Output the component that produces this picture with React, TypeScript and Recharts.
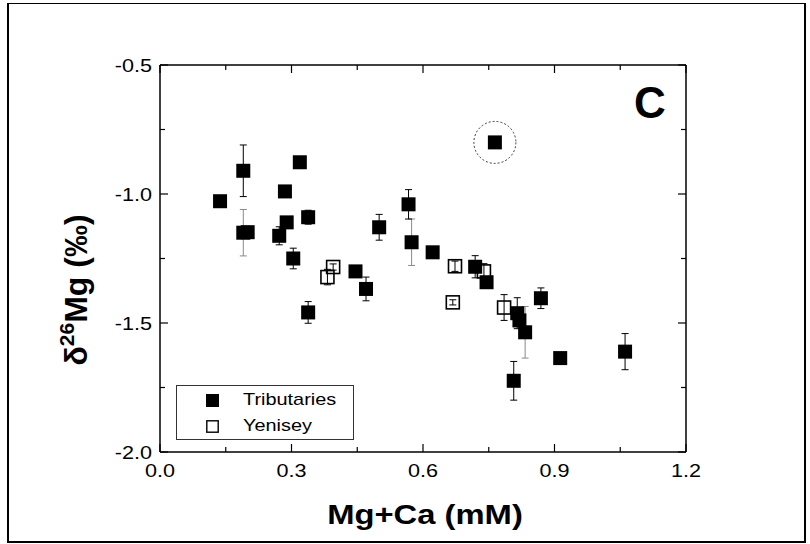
import React from 'react';
import { ScatterChart, Scatter, XAxis, YAxis, ErrorBar, ReferenceDot } from 'recharts';

// ---- data ----
const xMajorTicks = [0, 0.3, 0.6, 0.9, 1.2];
const xMinorTicks = [0.15, 0.45, 0.75, 1.05];
const yMajorTicks = [-2.0, -1.5, -1.0, -0.5];
const yMinorTicks = [-1.75, -1.25, -0.75];

const tribX = [0.137, 0.19, 0.19, 0.2, 0.272, 0.285, 0.289, 0.304, 0.319, 0.338, 0.338, 0.446, 0.47, 0.5, 0.567, 0.574, 0.622, 0.719, 0.745, 0.764, 0.815, 0.82, 0.833, 0.807, 0.869, 0.913, 1.061];
const tribY = [-1.028, -0.91, -1.15, -1.148, -1.162, -0.99, -1.11, -1.25, -0.877, -1.09, -1.459, -1.3, -1.368, -1.129, -1.04, -1.187, -1.226, -1.282, -1.342, -0.8, -1.462, -1.49, -1.536, -1.724, -1.404, -1.636, -1.611];
const tribErr = [null, 0.1, null, null, 0.035, null, 0.022, 0.04, null, 0.027, 0.042, null, 0.046, 0.05, 0.057, null, 0.012, 0.043, null, null, 0.06, null, null, 0.075, 0.04, null, 0.07];
const tribErrGrey = [null, null, 0.09, null, null, null, null, null, null, null, null, null, null, null, null, 0.09, null, null, null, null, null, null, 0.1, null, null, null, null];

const yenX = [0.382, 0.395, 0.673, 0.668, 0.739, 0.785];
const yenY = [-1.322, -1.283, -1.28, -1.42, -1.3, -1.44];
const yenErr = [0.03, 0.012, 0.02, 0.01, 0.03, 0.05];

const outlierX = 0.764;
const outlierY = -0.8;

const tribData = tribX.map((x, i) => ({
  x,
  y: tribY[i],
  e: tribErr[i] ?? undefined,
  g: tribErrGrey[i] ?? undefined,
}));
const yenData = yenX.map((x, i) => ({ x, y: yenY[i], e: yenErr[i] ?? undefined }));

const xTicks = [...xMajorTicks, ...xMinorTicks].sort((a, b) => a - b);
const yTicks = [...yMajorTicks, ...yMinorTicks].sort((a, b) => a - b);

// ---- styles ----
const FONT = '"Liberation Sans", Arial, Helvetica, sans-serif';
const isIn = (v: number, list: number[]) => list.some((m) => Math.abs(m - v) < 1e-9);

const BottomTick = (props: any) => {
  const { x, y, payload } = props;
  const major = isIn(payload.value, xMajorTicks);
  return (
    <g>
      <line x1={x} y1={y} x2={x} y2={y - (major ? 8 : 5)} stroke="#000" strokeWidth={1.2} />
      {major && (
        <text transform={`translate(${x},${y + 25}) scale(1.2,1)`} textAnchor="middle" fontSize={18} fontFamily={FONT} fill="#000">
          {Number(payload.value).toFixed(1)}
        </text>
      )}
    </g>
  );
};

const TopTick = (props: any) => {
  const { x, y, payload } = props;
  const major = isIn(payload.value, xMajorTicks);
  return <line x1={x} y1={y} x2={x} y2={y + (major ? 8 : 5)} stroke="#000" strokeWidth={1.2} />;
};

const LeftTick = (props: any) => {
  const { x, y, payload } = props;
  const major = isIn(payload.value, yMajorTicks);
  return (
    <g>
      <line x1={x} y1={y} x2={x + (major ? 8 : 5)} y2={y} stroke="#000" strokeWidth={1.2} />
      {major && (
        <text transform={`translate(${x - 8},${y + 6.5}) scale(1.2,1)`} textAnchor="end" fontSize={18} fontFamily={FONT} fill="#000">
          {Number(payload.value).toFixed(1)}
        </text>
      )}
    </g>
  );
};

const RightTick = (props: any) => {
  const { x, y, payload } = props;
  const major = isIn(payload.value, yMajorTicks);
  return <line x1={x} y1={y} x2={x - (major ? 8 : 5)} y2={y} stroke="#000" strokeWidth={1.2} />;
};

const FilledSquare = (props: any) => {
  const { cx, cy } = props;
  if (cx == null || cy == null) return null;
  return <rect x={cx - 7} y={cy - 7} width={14} height={14} fill="#000" />;
};

const OpenSquare = (props: any) => {
  const { cx, cy } = props;
  if (cx == null || cy == null) return null;
  return <rect x={cx - 6.5} y={cy - 6.5} width={13} height={13} fill="none" stroke="#000" strokeWidth={1.6} />;
};

const legendTextStyle: React.CSSProperties = {
  position: 'absolute',
  left: 66,
  fontSize: 17,
  transform: 'scaleX(1.17)',
  transformOrigin: 'left center',
  whiteSpace: 'nowrap',
  lineHeight: '20px',
};

const LegendBox = () => (
  <div
    style={{
      position: 'absolute',
      left: 176,
      top: 385,
      width: 178,
      height: 55,
      boxSizing: 'border-box',
      border: '1px solid #333',
      background: '#fff',
      fontFamily: FONT,
    }}
  >
    <svg width={20} height={55} style={{ position: 'absolute', left: 28, top: 0 }}>
      <rect x={1} y={8} width={13} height={13} fill="#000" />
      <rect x={1.8} y={34.8} width={11.4} height={11.4} fill="#fff" stroke="#000" strokeWidth={1.4} />
    </svg>
    <div style={{ ...legendTextStyle, top: 4 }}>Tributaries</div>
    <div style={{ ...legendTextStyle, top: 30 }}>Yenisey</div>
  </div>
);

export default function App() {
  return (
    <div style={{ position: 'absolute', left: 0, top: 0, width: 810, height: 544, background: '#fff', fontFamily: FONT, overflow: 'hidden' }}>
      <ScatterChart width={810} height={544} margin={{ top: 64, right: 123, bottom: 91, left: 159 }}>
        <XAxis
          xAxisId="b"
          type="number"
          dataKey="x"
          domain={[0, 1.2]}
          allowDataOverflow
          ticks={xTicks}
          interval={0}
          height={1}
          tickSize={0}
          tickMargin={0}
          tickLine={false}
          tick={BottomTick}
          axisLine={{ stroke: '#000', strokeWidth: 1.5 }}
        />
        <XAxis
          xAxisId="t"
          orientation="top"
          type="number"
          dataKey="x"
          domain={[0, 1.2]}
          allowDataOverflow
          ticks={xTicks}
          interval={0}
          height={1}
          tickSize={0}
          tickMargin={0}
          tickLine={false}
          tick={TopTick}
          axisLine={{ stroke: '#000', strokeWidth: 1.5 }}
        />
        <YAxis
          yAxisId="l"
          type="number"
          dataKey="y"
          domain={[-2.0, -0.5]}
          allowDataOverflow
          ticks={yTicks}
          interval={0}
          width={1}
          tickSize={0}
          tickMargin={0}
          tickLine={false}
          tick={LeftTick}
          axisLine={{ stroke: '#000', strokeWidth: 1.5 }}
        />
        <YAxis
          yAxisId="r"
          orientation="right"
          type="number"
          dataKey="y"
          domain={[-2.0, -0.5]}
          allowDataOverflow
          ticks={yTicks}
          interval={0}
          width={1}
          tickSize={0}
          tickMargin={0}
          tickLine={false}
          tick={RightTick}
          axisLine={{ stroke: '#000', strokeWidth: 1.5 }}
        />
        <ReferenceDot
          xAxisId="b"
          yAxisId="l"
          x={outlierX}
          y={outlierY}
          r={21}
          fill="none"
          stroke="#222"
          strokeWidth={0.9}
          strokeDasharray="2 2"
        />
        <Scatter name="Tributaries" data={tribData} xAxisId="b" yAxisId="l" shape={FilledSquare} isAnimationActive={false}>
          <ErrorBar dataKey="g" direction="y" width={3.5} stroke="#8a8a8a" strokeWidth={1} />
          <ErrorBar dataKey="e" direction="y" width={3.5} stroke="#000" strokeWidth={1} />
        </Scatter>
        <Scatter name="Yenisey" data={yenData} xAxisId="b" yAxisId="l" shape={OpenSquare} isAnimationActive={false}>
          <ErrorBar dataKey="e" direction="y" width={3.5} stroke="#000" strokeWidth={1} />
        </Scatter>
      </ScatterChart>
      <LegendBox />
      <div
        style={{
          position: 'absolute',
          left: 425,
          top: 515,
          transform: 'translate(-50%, -50%) scaleX(1.17)',
          fontSize: 28,
          fontWeight: 'bold',
          whiteSpace: 'nowrap',
          lineHeight: '32px',
        }}
      >
        Mg+Ca (mM)
      </div>
      <div
        style={{
          position: 'absolute',
          left: 78,
          top: 290,
          transform: 'translate(-50%, -50%) rotate(-90deg)',
          fontSize: 32,
          fontWeight: 'bold',
          whiteSpace: 'nowrap',
          lineHeight: '36px',
        }}
      >
        δ<sup style={{ fontSize: 21, verticalAlign: 'baseline', position: 'relative', top: -13 }}>26</sup>Mg (‰)
      </div>
      <div
        style={{
          position: 'absolute',
          left: 650,
          top: 103,
          transform: 'translate(-50%, -50%)',
          fontSize: 44,
          fontWeight: 'bold',
          lineHeight: '48px',
        }}
      >
        C
      </div>
      <div
        style={{
          position: 'absolute',
          left: 7,
          top: 3,
          width: 799,
          height: 540,
          boxSizing: 'border-box',
          borderTop: '1px solid #000',
          borderLeft: '2px solid #000',
          borderRight: '2px solid #000',
          borderBottom: '2px solid #000',
          pointerEvents: 'none',
        }}
      />
    </div>
  );
}
